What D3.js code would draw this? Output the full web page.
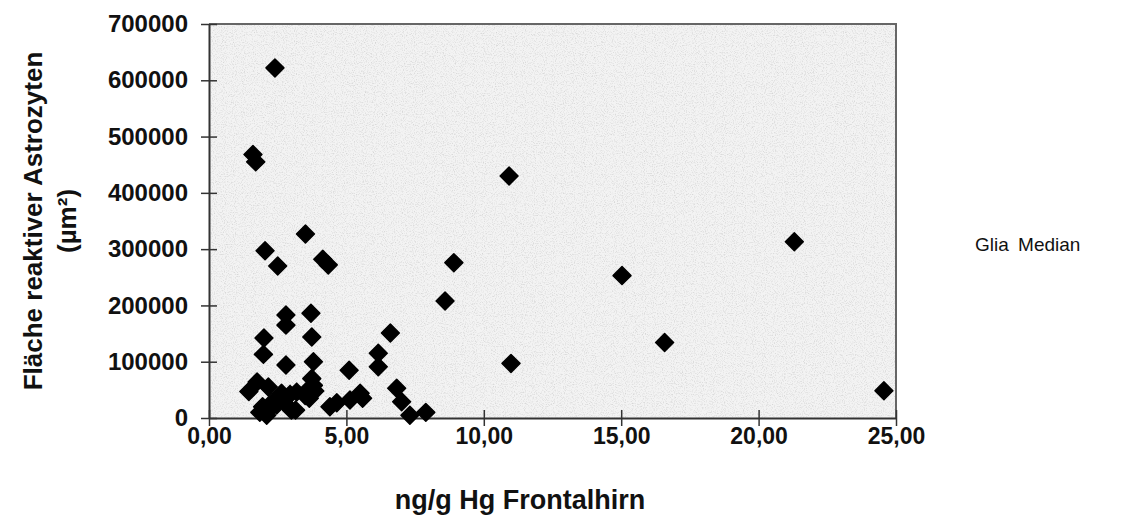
<!DOCTYPE html>
<html>
<head>
<meta charset="utf-8">
<script src="https://cdn.jsdelivr.net/npm/d3@7"></script>
<style>
  body { margin: 0; background: #fff; }
  text { font-family: "Liberation Sans", Arial, sans-serif; fill: #111; }
</style>
</head>
<body>
<script>
const width = 1137;
const height = 519;

// ng/g Hg Frontalhirn
const hg = [1.45, 1.60, 1.70, 1.75, 1.85, 1.98, 2.00, 2.04, 2.10, 2.16, 2.22, 2.30, 2.40, 2.46, 2.50,
    2.64, 2.80, 2.80, 2.80, 2.95, 3.00, 3.19, 3.15, 3.51, 3.50, 3.60, 3.71, 3.74, 3.74, 3.80,
    3.80, 3.65, 4.14, 4.34, 4.40, 4.65, 5.10, 5.13, 5.50, 5.59, 6.16, 6.16, 6.60, 6.83, 7.01,
    7.31, 7.89, 8.59, 8.91, 10.92, 10.99, 15.03, 16.58, 21.3, 24.56, 2.70, 1.95, 3.85];
// Fläche reaktiver Astrozyten (µm²)
const area = [47000, 468000, 455000, 64000, 10000, 113000, 142000, 297000, 5000, 55000, 17000, 28000, 622000, 23000, 270000,
    44000, 183000, 165000, 94000, 42000, 14000, 46000, 14000, 327000, 40000, 50000, 186000, 144000, 70000, 100000,
    58000, 35000, 282000, 272000, 20000, 27000, 85000, 32000, 44000, 35000, 115000, 91000, 151000, 53000, 29000,
    5000, 10000, 208000, 276000, 430000, 97000, 253000, 134000, 313000, 48500, 30000, 20000, 48000];

const xTicks = [0, 5, 10, 15, 20, 25];
const yTicks = [0, 100000, 200000, 300000, 400000, 500000, 600000, 700000];
const legendLabel = "Glia Median";

const margin = { left: 209, right: 241, top: 24, bottom: 101 };

const svg = d3.select("body").append("svg")
    .attr("width", width)
    .attr("height", height);

const x = d3.scaleLinear().domain([0, 25]).range([margin.left, width - margin.right]);
const y = d3.scaleLinear().domain([0, 700000]).range([height - margin.bottom, margin.top]);

// speckled grey plot background, like the scan
const defs = svg.append("defs");
const filter = defs.append("filter").attr("id", "grain");
filter.append("feTurbulence")
    .attr("type", "fractalNoise")
    .attr("baseFrequency", 0.9)
    .attr("numOctaves", 2)
    .attr("seed", 3);
filter.append("feColorMatrix")
    .attr("values", "0 0 0 0 0.6  0 0 0 0 0.6  0 0 0 0 0.6  0 0 0 -1.8 0.95");
filter.append("feComposite").attr("in2", "SourceGraphic").attr("operator", "in");

svg.append("rect")
    .attr("x", x(0)).attr("y", y(700000))
    .attr("width", x(25) - x(0)).attr("height", y(0) - y(700000))
    .attr("fill", "#f3f3f3");
svg.append("rect")
    .attr("x", x(0)).attr("y", y(700000))
    .attr("width", x(25) - x(0)).attr("height", y(0) - y(700000))
    .attr("fill", "#f3f3f3")
    .attr("filter", "url(#grain)");

// frame
svg.append("path")
    .attr("d", `M${x(0)},${y(700000)}H${x(25)}V${y(0)}`)
    .attr("fill", "none")
    .attr("stroke", "#666")
    .attr("stroke-width", 2);

// axes with ticks crossing the line
const xAxis = svg.append("g")
    .attr("transform", `translate(0,${y(0)})`)
    .call(d3.axisBottom(x).tickValues(xTicks).tickSize(8).tickSizeOuter(0)
        .tickFormat(d => d3.format(".2f")(d).replace(".", ",")));
xAxis.selectAll(".tick line").attr("y1", -8);
xAxis.select(".domain").attr("stroke-width", 2).attr("stroke", "#333");
xAxis.selectAll(".tick line").attr("stroke", "#333").attr("stroke-width", 1.5);
xAxis.selectAll("text")
    .attr("font-size", 23)
    .attr("font-weight", "bold")
    .attr("y", 10)
    .attr("dy", "0.71em")
    .style("font-family", "'Liberation Sans', Arial, sans-serif")
    .attr("fill", "#111");

const yAxis = svg.append("g")
    .attr("transform", `translate(${x(0)},0)`)
    .call(d3.axisLeft(y).tickValues(yTicks).tickSize(8).tickSizeOuter(0).tickFormat(d3.format("d")));
yAxis.selectAll(".tick line").attr("x1", 8);
yAxis.select(".domain").attr("stroke-width", 2).attr("stroke", "#333");
yAxis.selectAll(".tick line").attr("stroke", "#333").attr("stroke-width", 1.5);
yAxis.selectAll("text")
    .attr("font-size", 24)
    .attr("font-weight", "bold")
    .attr("x", -21)
    .style("font-family", "'Liberation Sans', Arial, sans-serif")
    .attr("fill", "#111");

// points
const diamond = d3.symbol().type(d3.symbolSquare).size(160);
svg.append("g")
    .selectAll("path")
    .data(hg.map((v, i) => ({ hg: v, area: area[i] })))
    .join("path")
    .attr("d", diamond)
    .attr("transform", d => `translate(${x(d.hg)},${y(d.area)}) rotate(45)`)
    .attr("fill", "#000")
    .attr("stroke", "#000")
    .attr("stroke-width", 1.5)
    .attr("stroke-linejoin", "round");

// axis titles
svg.append("text")
    .attr("x", 520)
    .attr("y", 509)
    .attr("text-anchor", "middle")
    .attr("font-size", 27)
    .attr("font-weight", "bold")
    .text("ng/g Hg Frontalhirn");

const yTitle = svg.append("text")
    .attr("transform", `translate(42,${(y(0) + y(700000)) / 2}) rotate(-90)`)
    .attr("text-anchor", "middle")
    .attr("font-size", 26)
    .attr("font-weight", "bold");
yTitle.append("tspan").attr("x", 0).attr("dy", 0).text("Fläche reaktiver Astrozyten");
yTitle.append("tspan").attr("x", 0).attr("dy", "1.3em").text("(µm²)");

svg.append("text")
    .attr("x", 975)
    .attr("y", 251)
    .attr("font-size", 19)
    .attr("word-spacing", 4)
    .text(legendLabel);
</script>
</body>
</html>
